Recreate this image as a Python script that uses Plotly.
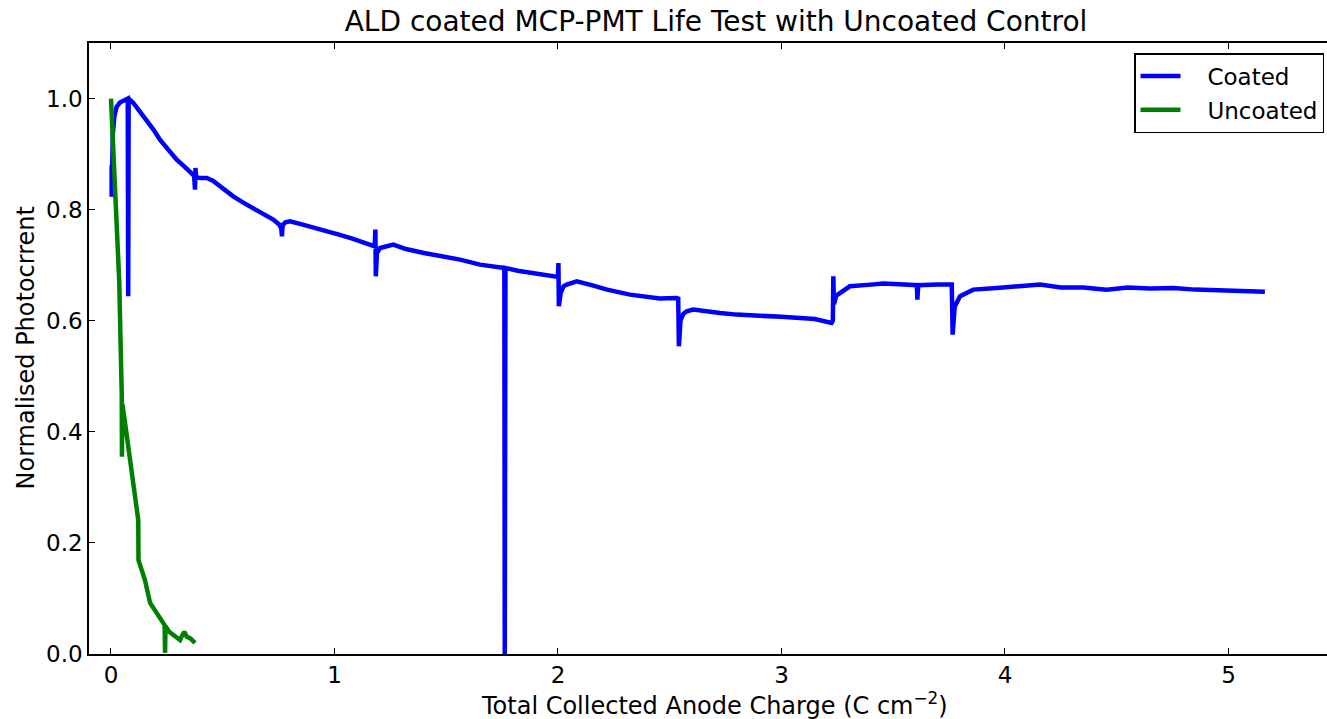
import plotly.graph_objects as go

# ---- data ----
coated_x = [0.003, 0.003, 0.003, 0.008, 0.015, 0.025, 0.04, 0.06, 0.075, 0.077, 0.079,
            0.10, 0.13, 0.16, 0.19, 0.219, 0.25, 0.294, 0.33, 0.353, 0.372, 0.376, 0.378, 0.381,
            0.40, 0.428, 0.456, 0.50, 0.547, 0.59, 0.637, 0.68, 0.726, 0.756, 0.762, 0.765, 0.768,
            0.78, 0.801, 0.85, 0.90, 0.965, 1.02, 1.08, 1.12, 1.159, 1.18, 1.183, 1.185, 1.19,
            1.204, 1.263, 1.32, 1.40, 1.48, 1.562, 1.651, 1.72, 1.760, 1.762, 1.765, 1.82, 1.87,
            1.93, 1.979, 2.000, 2.002, 2.004, 2.012, 2.025, 2.039, 2.084, 2.15, 2.22, 2.322, 2.40,
            2.456, 2.531, 2.538, 2.541, 2.548, 2.560, 2.576, 2.605, 2.65, 2.725, 2.80, 2.88, 2.95,
            3.00, 3.083, 3.15, 3.224, 3.230, 3.232, 3.235, 3.245, 3.262, 3.306, 3.40, 3.456, 3.55,
            3.606, 3.608, 3.612, 3.70, 3.762, 3.766, 3.775, 3.799, 3.858, 3.963, 4.05, 4.157, 4.25,
            4.35, 4.455, 4.55, 4.65, 4.753, 4.85, 4.95, 5.051, 5.12, 5.163]
coated_y = [0.880, 0.823, 0.899, 0.935, 0.968, 0.985, 0.993, 0.998, 1.000, 0.644, 1.000,
            0.992, 0.977, 0.962, 0.944, 0.926, 0.910, 0.890, 0.877, 0.869, 0.861, 0.836, 0.875, 0.858,
            0.857, 0.857, 0.852, 0.838, 0.824, 0.813, 0.803, 0.792, 0.782, 0.772, 0.765, 0.752, 0.772,
            0.777, 0.779, 0.774, 0.769, 0.761, 0.755, 0.748, 0.742, 0.737, 0.734, 0.764, 0.680, 0.722,
            0.731, 0.737, 0.729, 0.722, 0.716, 0.710, 0.701, 0.697, 0.695, 0.0, 0.695, 0.690, 0.687,
            0.684, 0.680, 0.679, 0.704, 0.626, 0.650, 0.662, 0.665, 0.671, 0.664, 0.656, 0.647, 0.643,
            0.640, 0.641, 0.640, 0.554, 0.600, 0.612, 0.617, 0.620, 0.617, 0.614, 0.611, 0.610, 0.608,
            0.607, 0.605, 0.603, 0.596, 0.600, 0.680, 0.630, 0.645, 0.650, 0.662, 0.665, 0.667, 0.665,
            0.664, 0.638, 0.664, 0.665, 0.665, 0.575, 0.625, 0.644, 0.656, 0.659, 0.662, 0.665, 0.660,
            0.660, 0.656, 0.660, 0.658, 0.659, 0.656, 0.655, 0.653, 0.653, 0.652]

uncoated_x = [0.0, 0.01, 0.02, 0.03, 0.037, 0.043, 0.048, 0.049, 0.051, 0.065, 0.078, 0.095,
              0.107, 0.122, 0.123, 0.135, 0.152, 0.175, 0.19, 0.212, 0.235, 0.240, 0.242, 0.244,
              0.26, 0.286, 0.309, 0.318, 0.328, 0.339, 0.355, 0.376]
uncoated_y = [1.0, 0.92, 0.84, 0.76, 0.67, 0.56, 0.47, 0.355, 0.45, 0.41, 0.373, 0.315,
              0.283, 0.241, 0.169, 0.155, 0.133, 0.092, 0.082, 0.067, 0.055, 0.052, 0.002, 0.050,
              0.040, 0.031, 0.025, 0.033, 0.040, 0.031, 0.028, 0.020]

x_ticks = [0, 1, 2, 3, 4, 5]
y_ticks = [0.0, 0.2, 0.4, 0.6, 0.8, 1.0]
y_tick_labels = ["0.0", "0.2", "0.4", "0.6", "0.8", "1.0"]

FONT = "DejaVu Sans"
W, H = 1327, 719
NB = "\u00a0"

fig = go.Figure()
fig.add_trace(go.Scatter(x=coated_x, y=coated_y, mode="lines", name=NB * 3 + "Coated",
                         legendgroup="a", line=dict(color="#0000ff", width=4.5)))
fig.add_trace(go.Scatter(x=uncoated_x, y=uncoated_y, mode="lines", name=NB * 3 + "Uncoated",
                         legendgroup="b", line=dict(color="#008000", width=4.5)))

fig.update_layout(
    width=W, height=H,
    margin=dict(l=89, r=0, t=43, b=H - 654),
    paper_bgcolor="white", plot_bgcolor="white",
    font=dict(family=FONT, size=24, color="black"),
    title=dict(text="ALD coated MCP-PMT Life Test with Uncoated Control",
               x=716 / W, xref="container", xanchor="center",
               y=1 - 21 / H, yref="container", yanchor="middle",
               font=dict(size=28, family=FONT, color="black")),
    showlegend=True,
    legend=dict(x=(1134 - 89) / 1238, xanchor="left", y=1 - (53 - 43) / 611, yanchor="top",
                bgcolor="white", bordercolor="black", borderwidth=1.5,
                font=dict(size=23, family=FONT), traceorder="grouped", tracegroupgap=1,
                itemwidth=40),
)
fig.update_xaxes(range=[-0.0984, 5.441], tickvals=x_ticks, ticks="inside", ticklen=6,
                 tickcolor="black", showline=True, linecolor="black", linewidth=1.5,
                 mirror="ticks", showgrid=False, zeroline=False,
                 tickfont=dict(size=23, family=FONT))
fig.update_yaxes(range=[0, 1.1], tickvals=y_ticks, ticktext=y_tick_labels, ticks="inside",
                 ticklen=6, tickcolor="black", showline=True, linecolor="black", linewidth=1.5,
                 mirror=False, showgrid=False, zeroline=False,
                 tickfont=dict(size=23, family=FONT))

fig.add_annotation(text="Total Collected Anode Charge (C cm<sup>\u22122</sup>)",
                   xref="paper", yref="paper", x=(714 - 89) / 1238, y=-(704 - 654) / 611,
                   xanchor="center", yanchor="middle", showarrow=False,
                   font=dict(size=24, family=FONT, color="black"))
fig.add_annotation(text="Normalised Photocrrent", textangle=-90,
                   xref="paper", yref="paper", x=(25 - 89) / 1238, y=0.5,
                   xanchor="center", yanchor="middle", showarrow=False,
                   font=dict(size=24, family=FONT, color="black"))

fig.write_html("out.html", config={"displayModeBar": False},
               post_script="document.body.style.margin='0';"
                           "document.body.style.overflow='hidden';"
                           "document.documentElement.style.overflow='hidden';")
